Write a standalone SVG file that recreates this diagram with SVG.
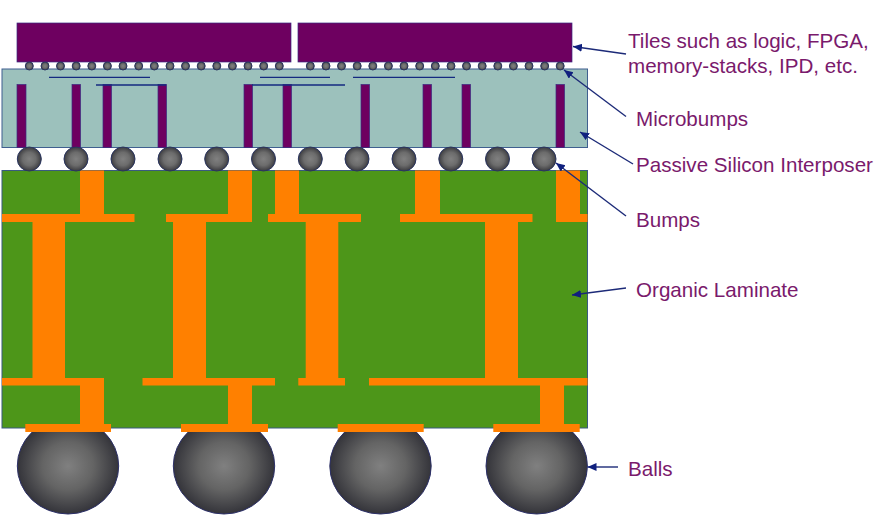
<svg xmlns="http://www.w3.org/2000/svg" width="886" height="523" viewBox="0 0 886 523">
<style>
.tile,.tsv{fill:#6e0060;stroke:#3a2a80;stroke-width:.7}
.ub,.bump{fill:url(#sph);stroke:#2a3560;stroke-width:1}
.ball{fill:url(#bsph);stroke:#2c3068;stroke-width:1}
.wire{stroke:#142a80;stroke-width:1.3;fill:none}
.cu{fill:#ff8000}
.lead{stroke:#1c2a78;stroke-width:1.4;fill:none;marker-end:url(#ah)}
text{font-family:"Liberation Sans",Arial,sans-serif;font-size:20.6px;fill:#7a1a6c}
</style>
<defs>
<radialGradient id="sph"><stop offset="0" stop-color="#808080"/><stop offset=".55" stop-color="#6c6c6c"/><stop offset="1" stop-color="#3c3c40"/></radialGradient>
<radialGradient id="bsph"><stop offset="0" stop-color="#808080"/><stop offset=".5" stop-color="#646464"/><stop offset="1" stop-color="#34343a"/></radialGradient>
<marker id="ah" markerUnits="userSpaceOnUse" markerWidth="10" markerHeight="10" refX="9" refY="4" orient="auto"><path d="M0 0L9 4L0 8Z" fill="#10207e"/></marker>
</defs>
<g id="balls">
<ellipse class="ball" cx="68" cy="466" rx="50.7" ry="48"/>
<ellipse class="ball" cx="224" cy="466" rx="50.7" ry="48"/>
<ellipse class="ball" cx="380.5" cy="466" rx="50.7" ry="48"/>
<ellipse class="ball" cx="536.7" cy="466" rx="50.7" ry="48"/>
</g>
<g id="laminate">
<rect x="2" y="170.5" width="585.5" height="257.5" fill="#4d9619" stroke="#3a5a80" stroke-width="1"/>
<g id="copper">
<rect class="cu" x="80" y="170.5" width="24" height="45"/><rect class="cu" x="2" y="214" width="132.5" height="8"/>
<rect class="cu" x="228" y="170.5" width="24" height="45"/><rect class="cu" x="166" y="214" width="86" height="8"/>
<rect class="cu" x="275" y="170.5" width="24" height="45"/><rect class="cu" x="268" y="214" width="93" height="8"/>
<rect class="cu" x="415" y="170.5" width="25" height="45"/><rect class="cu" x="400" y="214" width="132.5" height="8"/>
<rect class="cu" x="556" y="170.5" width="24" height="51.5"/><rect class="cu" x="556" y="214" width="31.5" height="8"/>
<rect class="cu" x="32.5" y="222" width="32.5" height="156"/><rect class="cu" x="173" y="222" width="33" height="156"/>
<rect class="cu" x="305.7" y="222" width="32.6" height="156"/><rect class="cu" x="485" y="222" width="33" height="156"/>
<rect class="cu" x="2" y="378" width="102" height="7.5"/><rect class="cu" x="142.5" y="378" width="132.5" height="7.5"/>
<rect class="cu" x="298.3" y="378" width="46.7" height="7.5"/><rect class="cu" x="369" y="378" width="218.5" height="7.5"/>
<rect class="cu" x="80" y="385" width="24" height="40"/><rect class="cu" x="228" y="385" width="24" height="40"/><rect class="cu" x="540" y="385" width="24" height="40"/>
<rect class="cu" x="25.3" y="424" width="85.7" height="8"/><rect class="cu" x="181" y="424" width="87" height="8"/>
<rect class="cu" x="337.7" y="424" width="86" height="8"/><rect class="cu" x="493.3" y="424" width="86.4" height="8"/>
</g>
</g>
<g id="interposer">
<rect x="2" y="69" width="585.5" height="78.5" fill="#9cc1bc" stroke="#3f5f8f" stroke-width="1"/>
<rect class="tsv" x="17" y="84.5" width="9" height="63"/><rect class="tsv" x="72" y="84.5" width="8.5" height="63"/>
<rect class="tsv" x="103" y="84.5" width="8.5" height="63"/><rect class="tsv" x="158" y="84.5" width="8.5" height="63"/>
<rect class="tsv" x="244" y="84.5" width="8.5" height="63"/><rect class="tsv" x="283" y="84.5" width="8.5" height="63"/>
<rect class="tsv" x="361" y="84.5" width="8.5" height="63"/><rect class="tsv" x="423" y="84.5" width="8.5" height="63"/>
<rect class="tsv" x="462" y="84.5" width="8.5" height="63"/><rect class="tsv" x="556" y="84.5" width="8.5" height="63"/>
<path class="wire" d="M49 77.3H150M96 85H166M260 77.3H330M252 85H345M353 77.3H455"/>
</g>
<g id="tile-left"><rect class="tile" x="17" y="23" width="274" height="39"/></g>
<g id="tile-right"><rect class="tile" x="298" y="23" width="274" height="39"/></g>
<g id="microbumps">
<circle class="ub" cx="29.3" cy="66" r="4"/><circle class="ub" cx="45" cy="66" r="4"/><circle class="ub" cx="60.5" cy="66" r="4"/><circle class="ub" cx="76.2" cy="66" r="4"/><circle class="ub" cx="91.8" cy="66" r="4"/><circle class="ub" cx="107.4" cy="66" r="4"/><circle class="ub" cx="123" cy="66" r="4"/><circle class="ub" cx="138.7" cy="66" r="4"/><circle class="ub" cx="154.3" cy="66" r="4"/><circle class="ub" cx="170" cy="66" r="4"/><circle class="ub" cx="185.5" cy="66" r="4"/><circle class="ub" cx="201.2" cy="66" r="4"/><circle class="ub" cx="216.8" cy="66" r="4"/><circle class="ub" cx="232.4" cy="66" r="4"/><circle class="ub" cx="248" cy="66" r="4"/><circle class="ub" cx="263.7" cy="66" r="4"/><circle class="ub" cx="279.3" cy="66" r="4"/>
<circle class="ub" cx="310.3" cy="66" r="4"/><circle class="ub" cx="326" cy="66" r="4"/><circle class="ub" cx="341.5" cy="66" r="4"/><circle class="ub" cx="357.2" cy="66" r="4"/><circle class="ub" cx="372.8" cy="66" r="4"/><circle class="ub" cx="388.4" cy="66" r="4"/><circle class="ub" cx="404" cy="66" r="4"/><circle class="ub" cx="419.7" cy="66" r="4"/><circle class="ub" cx="435.3" cy="66" r="4"/><circle class="ub" cx="451" cy="66" r="4"/><circle class="ub" cx="466.5" cy="66" r="4"/><circle class="ub" cx="482.2" cy="66" r="4"/><circle class="ub" cx="497.8" cy="66" r="4"/><circle class="ub" cx="513.4" cy="66" r="4"/><circle class="ub" cx="529" cy="66" r="4"/><circle class="ub" cx="544.7" cy="66" r="4"/><circle class="ub" cx="560.2" cy="66" r="4"/>
</g>
<g id="bumps">
<circle class="bump" cx="29.3" cy="159" r="12"/><circle class="bump" cx="76" cy="159" r="12"/><circle class="bump" cx="123" cy="159" r="12"/><circle class="bump" cx="170" cy="159" r="12"/><circle class="bump" cx="216.7" cy="159" r="12"/><circle class="bump" cx="263.5" cy="159" r="12"/><circle class="bump" cx="310.3" cy="159" r="12"/><circle class="bump" cx="357" cy="159" r="12"/><circle class="bump" cx="404" cy="159" r="12"/><circle class="bump" cx="450.8" cy="159" r="12"/><circle class="bump" cx="497.5" cy="159" r="12"/><circle class="bump" cx="544" cy="159" r="12"/>
</g>
<g id="connectors">
<line class="lead" x1="626" y1="54" x2="573" y2="46.5"/>
<line class="lead" x1="626" y1="116.5" x2="564" y2="70"/>
<line class="lead" x1="633" y1="164" x2="580" y2="132"/>
<line class="lead" x1="626" y1="216" x2="556" y2="163"/>
<line class="lead" x1="626" y1="288" x2="572" y2="295"/>
<line class="lead" x1="618" y1="467" x2="587.5" y2="467"/>
</g>
<g id="labels">
<text x="628" y="47.5">Tiles such as logic, FPGA,</text>
<text x="628" y="73">memory-stacks, IPD, etc.</text>
<text x="636" y="126">Microbumps</text>
<text x="636" y="172">Passive Silicon Interposer</text>
<text x="636" y="227">Bumps</text>
<text x="636" y="297">Organic Laminate</text>
<text x="628" y="476">Balls</text>
</g>
</svg>
